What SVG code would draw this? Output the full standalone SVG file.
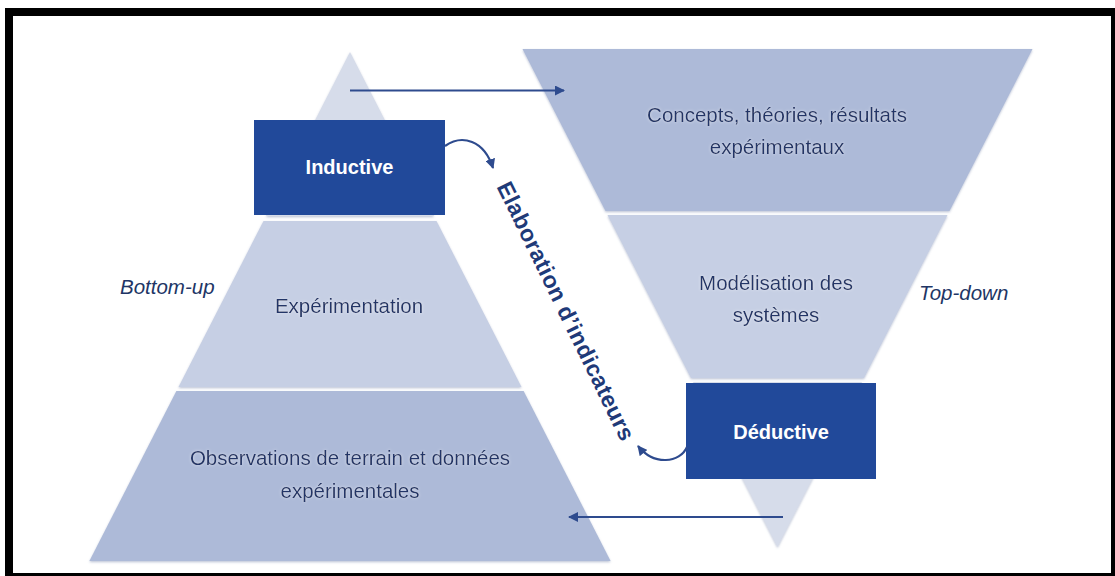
<svg xmlns="http://www.w3.org/2000/svg" width="1115" height="576" viewBox="0 0 1115 576">
  <style>
    .band-dark { fill: #adbad8; }
    .band-mid { fill: #c6cfe4; }
    .band-light { fill: #d6dcea; }
    .box { fill: #21499a; }
    .box-label { font-family: "Liberation Sans", Arial, sans-serif; font-weight: bold; font-size: 20px; fill: #ffffff; text-anchor: middle; }
    .label { font-family: "Liberation Sans", Arial, sans-serif; font-size: 20.5px; fill: #223667; text-anchor: middle; }
    .side { font-family: "Liberation Sans", Arial, sans-serif; font-style: italic; font-size: 20.5px; fill: #213565; }
    .flow { font-family: "Liberation Sans", Arial, sans-serif; font-weight: bold; font-size: 23px; fill: #1f3a78; text-anchor: middle; }
    .conn { fill: none; stroke: #2e4b8e; stroke-width: 2.2; }
  </style>
  <defs>
    <marker id="head" viewBox="0 0 10 10" refX="9" refY="5" markerWidth="10" markerHeight="10" markerUnits="userSpaceOnUse" orient="auto">
      <path d="M0,0 L10,5 L0,10 Z" fill="#2e4b8e"/>
    </marker>
    <filter id="shade" x="-5%" y="-5%" width="110%" height="115%">
      <feDropShadow dx="0" dy="1.2" stdDeviation="1" flood-color="#6f7fa6" flood-opacity="0.45"/>
    </filter>
    <filter id="glow" x="-10%" y="-30%" width="120%" height="160%">
      <feGaussianBlur in="SourceAlpha" stdDeviation="1.6" result="b"/>
      <feFlood flood-color="#ffffff" flood-opacity="0.55"/>
      <feComposite in2="b" operator="in" result="g"/>
      <feMerge><feMergeNode in="g"/><feMergeNode in="SourceGraphic"/></feMerge>
    </filter>
  </defs>

  <rect width="1115" height="576" fill="#ffffff"/>
  <!-- frame -->
  <rect x="9" y="12" width="1106" height="565" fill="none" stroke="#000000" stroke-width="8"/>

  <!-- bottom-up pyramid -->
  <g id="pyramid-bottom-up" filter="url(#shade)">
    <polygon class="band-light" points="350,52 434,216 266,216"/>
    <polygon class="band-mid" points="263.5,221 436.5,221 521.5,387 178.5,387"/>
    <polygon class="band-dark" points="176.4,391 523.6,391 610.6,561 89.4,561"/>
  </g>

  <!-- top-down pyramid -->
  <g id="pyramid-top-down" filter="url(#shade)">
    <polygon class="band-dark" points="522.5,49 1032.5,49 949.5,211 605.5,211"/>
    <polygon class="band-mid" points="607.5,215 947.5,215 864,378 691,378"/>
    <polygon class="band-light" points="693,382 862,382 777.5,547"/>
  </g>

  <g id="node-experimentation">
    <text class="label" x="349" y="313" filter="url(#glow)">Expérimentation</text>
  </g>
  <g id="node-observations">
    <text class="label" x="350" y="465" filter="url(#glow)">Observations de terrain et données</text>
    <text class="label" x="350" y="498" filter="url(#glow)">expérimentales</text>
  </g>
  <g id="node-concepts">
    <text class="label" x="777" y="122" filter="url(#glow)">Concepts, théories, résultats</text>
    <text class="label" x="777" y="154" filter="url(#glow)">expérimentaux</text>
  </g>
  <g id="node-modelisation">
    <text class="label" x="776" y="290" filter="url(#glow)">Modélisation des</text>
    <text class="label" x="776" y="322" filter="url(#glow)">systèmes</text>
  </g>

  <g id="node-inductive">
    <rect class="box" x="254" y="120" width="191" height="95"/>
    <text class="box-label" x="349.5" y="174">Inductive</text>
  </g>
  <g id="node-deductive">
    <rect class="box" x="686" y="383" width="190" height="96"/>
    <text class="box-label" x="781" y="439">Déductive</text>
  </g>

  <g id="label-bottom-up">
    <text class="side" x="120" y="294">Bottom-up</text>
  </g>
  <g id="label-top-down">
    <text class="side" x="919" y="300">Top-down</text>
  </g>

  <!-- connectors -->
  <g id="connectors">
    <line class="conn" x1="350" y1="90.5" x2="564" y2="90.5" marker-end="url(#head)"/>
    <line class="conn" x1="783" y1="517" x2="569" y2="517" marker-end="url(#head)"/>
    <path class="conn" d="M445,146 C462,134 484,140 493,168" marker-end="url(#head)"/>
    <path class="conn" d="M687,447 C680,463 654,466 638,446" marker-end="url(#head)"/>
    <text class="flow" transform="translate(566,311) rotate(64)" x="0" y="8" textLength="285" lengthAdjust="spacing">Elaboration d’indicateurs</text>
  </g>
</svg>
